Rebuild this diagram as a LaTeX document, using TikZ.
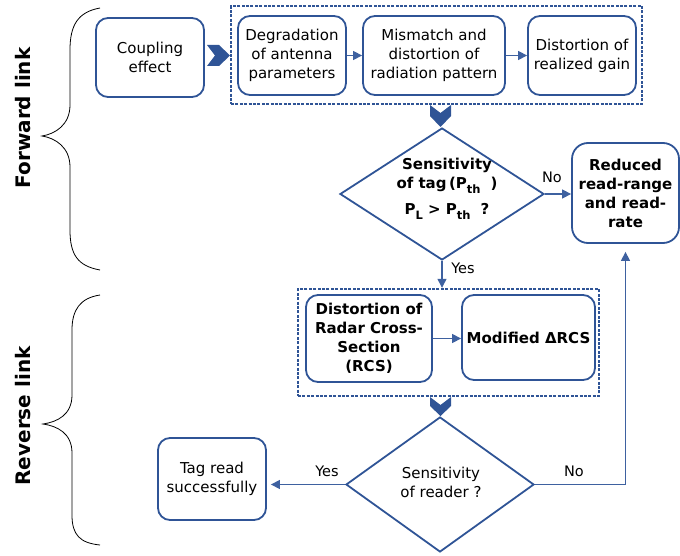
\documentclass[tikz,border=0pt]{standalone}
\usepackage{fontspec}
\setmainfont{DejaVu Sans}
\usetikzlibrary{shapes.geometric,arrows.meta}
\definecolor{bl}{RGB}{47,84,150}
\definecolor{ln}{RGB}{62,97,160}
\newcommand\sbx[1]{\raisebox{-0.35em}{\fontsize{11.5}{11.5}\selectfont #1}}
\begin{document}
\begin{tikzpicture}[x=1pt,y=-1pt,
 box/.style={draw=bl,line width=1.8pt,rounded corners=12pt,align=center,inner sep=0pt,font=\fontsize{15}{19}\selectfont},
 bbox/.style={box,font=\bfseries\fontsize{15}{19}\selectfont},
 dbox/.style={draw=bl,line width=2.4pt,dash pattern=on 3pt off 1.4pt,inner sep=0pt},
 dia/.style={draw=bl,line width=1.8pt,diamond,inner sep=0pt},
 conn/.style={draw=ln,line width=1.3pt,-{Triangle[length=9pt,width=9pt]}},
 lab/.style={font=\fontsize{14.5}{17}\selectfont,inner sep=0pt},
 side/.style={rotate=90,font=\bfseries\fontsize{20}{24}\selectfont,inner sep=0pt},
 brace/.style={draw=black,line width=0.8pt},
 chev/.style={fill=bl}]
\useasboundingbox (0,0) rectangle (680,556);

% side braces and labels
\draw[brace] (100,8) .. controls (78,12) and (70,25) .. (70,50) -- (70,105)
  .. controls (70,125) and (55,134) .. (42,136) .. controls (55,138) and (70,147) .. (70,167)
  -- (70,230) .. controls (70,255) and (78,266) .. (100,270);
\draw[brace] (100,295) .. controls (80,298) and (72,310) .. (72,330) -- (72,395)
  .. controls (72,415) and (57,422) .. (43,424) .. controls (57,426) and (72,433) .. (72,453)
  -- (72,515) .. controls (72,535) and (80,543) .. (100,545);
\node[side] (fl) at (23,118) {Forward link};
\node[side] (rl) at (23,416) {Reverse link};

% forward link
\node[box,minimum width=108pt,minimum height=79pt] (coup) at (150,57.5) {Coupling\\effect};
\node[dbox,minimum width=411pt,minimum height=98pt] (g1) at (436.5,55) {};
\node[box,minimum width=108pt,minimum height=79pt] (deg) at (292,55.5) {Degradation\\of antenna\\parameters};
\node[box,minimum width=142pt,minimum height=79pt] (mis) at (434,55.5) {Mismatch and\\distortion of\\radiation pattern};
\node[box,minimum width=108pt,minimum height=79pt] (gain) at (582,55.5) {Distortion of\\realized gain};
\draw[conn] (deg) -- (mis);
\draw[conn] (mis) -- (gain);
\fill[chev] (207,45) -- (219,45) -- (230,55.5) -- (219,66) -- (207,66) -- (215,55.5) -- cycle;
\fill[chev] (430,105) -- (440.5,113) -- (451,105) -- (451,116) -- (440.5,127) -- (430,116) -- cycle;

\node[dia,minimum width=204pt,minimum height=132pt] (d1) at (442,194) {};
\node[font=\bfseries\fontsize{15}{19}\selectfont,align=center,inner sep=0pt] (d1t) at (447,189)
  {Sensitivity\\of tag\,(P\sbx{th}\hspace{10pt})\\[7pt]P\sbx{L} > P\sbx{th}\hspace{10pt}?};
\node[bbox,rounded corners=16pt,minimum width=107pt,minimum height=100pt] (red) at (625.5,193)
  {Reduced\\read-range\\and read-\\rate};
\draw[conn] (d1.east) -- (d1.east -| red.west);
\node[lab] (no1) at (552,177) {No};

% reverse link
\node[dbox,minimum width=301pt,minimum height=107pt] (g2) at (448.5,342.5) {};
\draw[conn] (d1.south) -- (d1.south |- g2.north);
\node[lab] (yes1) at (463,268) {Yes};
\node[bbox,minimum width=126pt,minimum height=87pt] (rcs) at (369,338.5)
  {Distortion of\\Radar Cross-\\Section\\(RCS)};
\node[bbox,minimum width=133pt,minimum height=85pt] (mod) at (528.5,337.5) {Modified ΔRCS};
\draw[conn] (rcs.east) -- (rcs.east -| mod.west);
\fill[chev] (430,397) -- (440.5,405) -- (451,397) -- (451,406) -- (440.5,416) -- (430,406) -- cycle;

\node[dia,minimum width=188pt,minimum height=135pt] (d2) at (440,484.5) {};
\node[font=\fontsize{15}{19}\selectfont,align=center,inner sep=0pt] (d2t) at (441,482)
  {Sensitivity\\of reader ?};
\node[box,minimum width=108pt,minimum height=82pt] (tag) at (212,479) {Tag read\\successfully};
\draw[conn,shorten >=4pt] (d2.west) -- (d2.west -| tag.east);
\node[lab] (yes2) at (327,471) {Yes};
\draw[conn,shorten >=8pt] (d2.east) -| (red.south);
\node[lab] (no2) at (574,471) {No};
\end{tikzpicture}
\end{document}
